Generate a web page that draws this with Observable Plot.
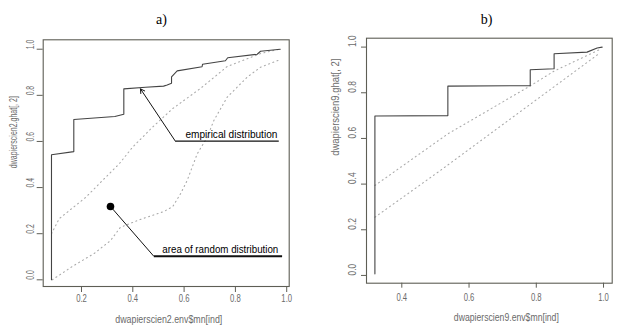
<!DOCTYPE html>
<html><head><meta charset="utf-8">
<script src="https://cdn.jsdelivr.net/npm/d3@7"></script>
<script src="https://cdn.jsdelivr.net/npm/@observablehq/plot@0.6"></script>
<style>
body{margin:0;background:#fff;}
#wrap{display:flex;width:620px;height:332px;overflow:hidden;}
#wrap svg{display:block;flex:none;}
</style></head><body><div id="wrap"></div>
<script>
// ---------- data: panel a ----------
const titleA = "a)";
const xLabelA = "dwapierscien2.env$mn[ind]";
const yLabelA = "dwapierscien2.ghat[, 2]";
const xTicksA = [0.2, 0.4, 0.6, 0.8, 1.0];
const yTicksA = [0.0, 0.2, 0.4, 0.6, 0.8, 1.0];
const empiricalA = [[0.083,0.0],[0.083,0.542],[0.170,0.556],[0.170,0.695],[0.33,0.708],[0.365,0.718],[0.365,0.828],[0.45,0.835],[0.52,0.840],[0.534,0.845],[0.551,0.852],[0.551,0.880],[0.573,0.906],[0.670,0.924],[0.672,0.935],[0.761,0.950],[0.770,0.963],[0.885,0.978],[0.898,0.991],[0.975,1.0]];
const upperA = [[0.083,0.20],[0.113,0.265],[0.217,0.358],[0.282,0.431],[0.347,0.503],[0.399,0.575],[0.477,0.662],[0.555,0.742],[0.664,0.83],[0.768,0.925],[0.898,0.981],[0.97,1.0]];
const lowerA = [[0.086,0.0],[0.170,0.062],[0.248,0.113],[0.313,0.170],[0.352,0.228],[0.43,0.262],[0.521,0.296],[0.556,0.318],[0.586,0.373],[0.612,0.431],[0.651,0.546],[0.690,0.618],[0.716,0.691],[0.768,0.792],[0.846,0.879],[0.898,0.922],[0.975,0.955]];
// annotations of panel a (data units)
const annoLabelsA = [{label:"empirical distribution", x:0.605, y:0.601},{label:"area of random distribution", x:0.515, y:0.102}];
const annoUnderlinesA = [{x1:0.566, x2:0.969, y:0.601, w:1.3},{x1:0.482, x2:0.982, y:0.102, w:2}];
const annoArrowA = [{x1:0.566, y1:0.601, x2:0.430, y2:0.828}];
const annoLeaderA = [{x1:0.482, y1:0.102, x2:0.313, y2:0.318}];
const annoDotA = [{x:0.313, y:0.318}];

// ---------- data: panel b ----------
const titleB = "b)";
const xLabelB = "dwapierscien9.env$mn[ind]";
const yLabelB = "dwapierscien9.ghat[, 2]";
const xTicksB = [0.4, 0.6, 0.8, 1.0];
const yTicksB = [0.0, 0.2, 0.4, 0.6, 0.8, 1.0];
const empiricalB = [[0.320,0.007],[0.320,0.698],[0.537,0.700],[0.537,0.829],[0.782,0.831],[0.782,0.901],[0.853,0.905],[0.853,0.971],[0.951,0.978],[0.981,0.996],[0.996,1.0]];
const upperB = [[0.32,0.394],[0.537,0.62],[0.782,0.83],[0.853,0.895],[0.99,0.99]];
const lowerB = [[0.32,0.255],[0.515,0.46],[0.99,0.975]];

const fmt = d3.format(".1f");
const SANS = "'Liberation Sans', Arial, sans-serif";
const SERIF = "'Liberation Serif', 'Times New Roman', serif";
const BOX = "#5e5e55";
const LAB = "#6a6a6a";

function panel(cfg) {
  const marks = [
    Plot.frame({stroke: BOX, strokeWidth: 1.1}),
    Plot.axisX(cfg.xTicks, {anchor:"bottom", tickSize: cfg.tick, stroke: BOX, tickFormat: () => "", label: null}),
    Plot.axisY(cfg.yTicks, {anchor:"left", tickSize: cfg.tick, stroke: BOX, tickFormat: () => "", label: null}),
    Plot.text(cfg.xTicks, {x: d => d, text: d => fmt(d), frameAnchor:"bottom", dy: cfg.xTickDy, fontSize: 10, fill: LAB}),
    Plot.text(cfg.yTicks, {y: d => d, text: d => fmt(d), frameAnchor:"left", dx: cfg.yTickDx, rotate: -90, fontSize: 10, fill: LAB}),
    Plot.text([cfg.xLabel], {frameAnchor:"bottom", dy: cfg.xLabDy, dx: cfg.xLabDx, fontSize: 10, fill: LAB}),
    Plot.text([cfg.yLabel], {frameAnchor:"left", dx: cfg.yLabDx, dy: cfg.yLabDy, rotate: -90, fontSize: 10, fill: LAB}),
    Plot.text([cfg.title], {frameAnchor:"top", dy: cfg.titleDy, dx: cfg.titleDx, fontSize: 14, fontFamily: SERIF, fill: "#000"}),
    Plot.line(cfg.upper, {x: d => d[0], y: d => d[1], stroke: "#aaa", strokeWidth: 1.1, strokeDasharray: "1,3.5"}),
    Plot.line(cfg.lower, {x: d => d[0], y: d => d[1], stroke: "#aaa", strokeWidth: 1.1, strokeDasharray: "1,3.5"}),
    Plot.line(cfg.empirical, {x: d => d[0], y: d => d[1], stroke: "#444", strokeWidth: 1.1}),
    ...(cfg.extra || [])
  ];
  const svg = Plot.plot({
    width: 310, height: 332,
    marginLeft: cfg.ml, marginRight: cfg.mr, marginTop: cfg.mt, marginBottom: cfg.mb,
    x: {domain: cfg.xDomain, axis: null},
    y: {domain: cfg.yDomain, axis: null},
    style: {fontFamily: SANS, background: "white", overflow: "visible"},
    marks
  });
  d3.select(svg).selectAll("text").each(function() {
    const t = this.textContent;
    const rotated = (this.getAttribute("transform") || "").includes("rotate") ||
                    (this.parentNode.getAttribute("transform") || "").includes("rotate");
    let L = cfg.lengths[t];
    if (/^\d\.\d$/.test(t)) L = rotated ? cfg.yTickLen : cfg.xTickLen;
    if (L) { this.setAttribute("textLength", L); this.setAttribute("lengthAdjust", "spacingAndGlyphs"); }
  });
  return svg;
}

const wrap = document.getElementById("wrap");
wrap.appendChild(panel({
  title: titleA, xLabel: xLabelA, yLabel: yLabelA, xTicks: xTicksA, yTicks: yTicksA,
  empirical: empiricalA, upper: upperA, lower: lowerA,
  ml: 42.7, mr: 21.3, mt: 39.3, mb: 46,
  xDomain: [0.0507, 1.0097], yDomain: [-0.029, 1.0408],
  tick: 6, xTickDy: 15.7, yTickDx: -12.7, xLabDy: 36.7, xLabDx: 2.6, yLabDx: -29.4, yLabDy: 5,
  titleDy: -26, titleDx: -4.7,
  xTickLen: 10.7, yTickLen: 9.5,
  lengths: {[xLabelA]: 107, [yLabelA]: 72, "empirical distribution": 92, "area of random distribution": 116},
  extra: [
    Plot.link(annoUnderlinesA, {x1: "x1", x2: "x2", y1: "y", y2: "y", stroke: "#111", strokeWidth: d => d.w}),
    Plot.text(annoLabelsA, {x: "x", y: "y", text: "label", textAnchor: "start", dy: -7, fontSize: 11, fill: "#000"}),
    Plot.arrow(annoArrowA, {x1: "x1", y1: "y1", x2: "x2", y2: "y2", stroke: "#111", strokeWidth: 1, headLength: 7}),
    Plot.link(annoLeaderA, {x1: "x1", y1: "y1", x2: "x2", y2: "y2", stroke: "#111", strokeWidth: 1}),
    Plot.dot(annoDotA, {x: "x", y: "y", r: 3.8, fill: "#000"})
  ]
}));
wrap.appendChild(panel({
  title: titleB, xLabel: xLabelB, yLabel: yLabelB, xTicks: xTicksB, yTicks: yTicksB,
  empirical: empiricalB, upper: upperB, lower: lowerB,
  ml: 56, mr: 8.3, mt: 37.7, mb: 49.3,
  xDomain: [0.295, 1.0258], yDomain: [-0.034, 1.039],
  tick: 5, xTickDy: 17.3, yTickDx: -13.3, xLabDy: 37.3, xLabDx: 17, yLabDx: -31, yLabDy: -5,
  titleDy: -23.7, titleDx: -2.85,
  xTickLen: 10.7, yTickLen: 11.7,
  lengths: {[xLabelB]: 105, [yLabelB]: 97}
}));
</script></body></html>
